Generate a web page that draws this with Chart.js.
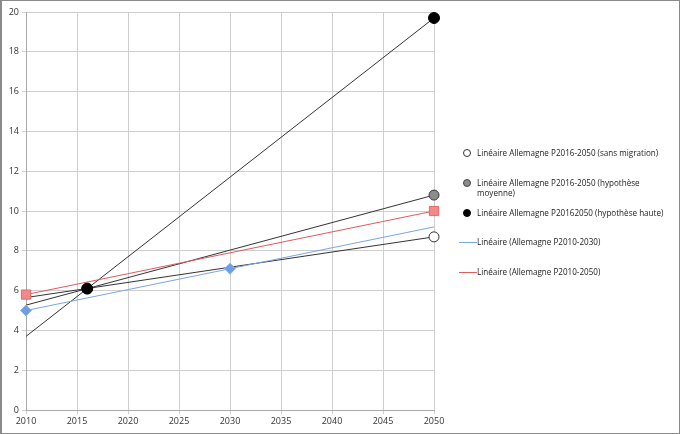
<!DOCTYPE html>
<html>
<head>
<meta charset="utf-8">
<script src="https://cdn.jsdelivr.net/npm/chart.js@4"></script>
<style>
  html, body { margin: 0; padding: 0; background: #fff; }
  #wrap { position: relative; width: 680px; height: 434px; box-sizing: border-box; border: 1px solid #8a8a8a; border-left-width: 2px; }
  #wrap canvas { position: absolute; left: 0; top: 0; }
  .legend { position: absolute; left: 0; top: 0; font-family: "Open Sans", sans-serif; font-size: 8.1px; color: #222; }
  .item { position: absolute; left: 475px; line-height: 10px; white-space: nowrap; }
  .mark { position: absolute; box-sizing: border-box; }
</style>
</head>
<body>
<div id="wrap">
  <canvas id="chart" width="678" height="432"></canvas>
  <div class="legend" id="legend"></div>
</div>
<script>
// years on the x axis
const xMin = 2010;
const xMax = 2050;
const yTicks = [0, 2, 4, 6, 8, 10, 12, 14, 16, 18, 20];

// measured points
const yearsP2010_2030 = [2010, 2030];
const valuesP2010_2030 = [5.0, 7.1];
const yearsP2010_2050 = [2010, 2050];
const valuesP2010_2050 = [5.8, 10.0];
const yearsP2016 = [2016, 2050];
const valuesSansMigration = [6.1, 8.7];
const valuesMoyenne = [6.1, 10.8];
const valuesHaute = [6.1, 19.7];

// trend lines, read at both ends of the axis
const trendYears = [2010, 2050];
const trendP2010_2030 = [5.0, 9.2];
const trendP2010_2050 = [5.8, 10.0];
const trendSansMigration = [5.65, 8.7];
const trendMoyenne = [5.27, 10.8];
const trendHaute = [3.7, 19.7];

const pts = (xs, ys) => xs.map((x, i) => ({ x: x, y: ys[i] }));

const markerSet = (label, xs, ys, style, fill, border, r, order) => ({
  label: label,
  data: pts(xs, ys),
  showLine: false,
  clip: false,
  pointStyle: style,
  pointRadius: r,
  pointBackgroundColor: fill,
  pointBorderColor: border,
  pointBorderWidth: 1,
  order: order
});

const lineSet = (label, ys, color) => ({
  label: label,
  data: pts(trendYears, ys),
  showLine: true,
  borderColor: color,
  borderWidth: 1,
  pointRadius: 0,
  order: 10
});

const chart = new Chart(document.getElementById("chart"), {
  type: "scatter",
  data: {
    datasets: [
      markerSet("Linéaire Allemagne P20162050 (hypothèse haute)", yearsP2016, valuesHaute, "circle", "#000", "#000", 5.5, 0),
      markerSet("Linéaire Allemagne P2016-2050 (hypothèse moyenne)", yearsP2016, valuesMoyenne, "circle", "#8c8c8c", "#3a3a3a", 5, 1),
      markerSet("Linéaire Allemagne P2016-2050 (sans migration)", yearsP2016, valuesSansMigration, "circle", "#fff", "#333", 5, 2),
      markerSet("Allemagne P2010-2050", yearsP2010_2050, valuesP2010_2050, "rect", "#f08a88", "#e46a68", 6.5, 3),
      markerSet("Allemagne P2010-2030", yearsP2010_2030, valuesP2010_2030, "rectRot", "#6e9fe6", "#8fb4ec", 5.5, 4),
      lineSet("Linéaire (Allemagne P2010-2030)", trendP2010_2030, "#7aa6e2"),
      lineSet("Linéaire (Allemagne P2010-2050)", trendP2010_2050, "#dd5c5c"),
      lineSet("trend sans migration", trendSansMigration, "#333"),
      lineSet("trend moyenne", trendMoyenne, "#333"),
      lineSet("trend haute", trendHaute, "#333")
    ]
  },
  options: {
    responsive: false,
    animation: false,
    layout: { padding: { left: 0, top: 11, right: 246, bottom: 0 } },
    plugins: { legend: { display: false }, tooltip: { enabled: false } },
    scales: {
      x: {
        type: "linear",
        min: xMin,
        max: xMax,
        ticks: { stepSize: 5, color: "#333", font: { family: "Open Sans", size: 9 }, padding: 2, maxRotation: 0, callback: v => String(v) },
        grid: { color: "#cfcfcf", tickLength: 4 },
        border: { color: "#aaa" },
        afterFit: s => { s.height = 23; }
      },
      y: {
        min: 0,
        max: 20,
        afterBuildTicks: s => { s.ticks = yTicks.map(v => ({ value: v })); },
        ticks: { color: "#333", font: { family: "Open Sans", size: 9 }, padding: 3 },
        grid: { color: "#cfcfcf", tickLength: 4 },
        border: { color: "#aaa" },
        afterFit: s => { s.width = 24; }
      }
    }
  }
});

// legend beside the plot
const legend = document.getElementById("legend");
const legendItems = [
  { text: "Linéaire Allemagne P2016-2050 (sans migration)", y: 147, kind: "dot", fill: "#fff", border: "#333" },
  { text: "Linéaire Allemagne P2016-2050 (hypothèse<br>moyenne)", y: 177, kind: "dot", fill: "#8c8c8c", border: "#444" },
  { text: "Linéaire Allemagne P20162050 (hypothèse haute)", y: 207, kind: "dot", fill: "#000", border: "#000" },
  { text: "Linéaire (Allemagne P2010-2030)", y: 236, kind: "line", fill: "#7aa6e2" },
  { text: "Linéaire (Allemagne P2010-2050)", y: 266, kind: "line", fill: "#dd5c5c" }
];
legendItems.forEach(it => {
  const t = document.createElement("div");
  t.className = "item";
  t.style.top = it.y + "px";
  t.innerHTML = it.text;
  legend.appendChild(t);
  const m = document.createElement("div");
  m.className = "mark";
  if (it.kind === "dot") {
    m.style.left = "461px";
    m.style.top = (it.y + 1) + "px";
    m.style.width = "8px";
    m.style.height = "8px";
    m.style.borderRadius = "50%";
    m.style.background = it.fill;
    m.style.border = "1px solid " + it.border;
  } else {
    m.style.left = "457px";
    m.style.top = (it.y + 5) + "px";
    m.style.width = "18px";
    m.style.height = "1px";
    m.style.background = it.fill;
  }
  legend.appendChild(m);
});
</script>
</body>
</html>
